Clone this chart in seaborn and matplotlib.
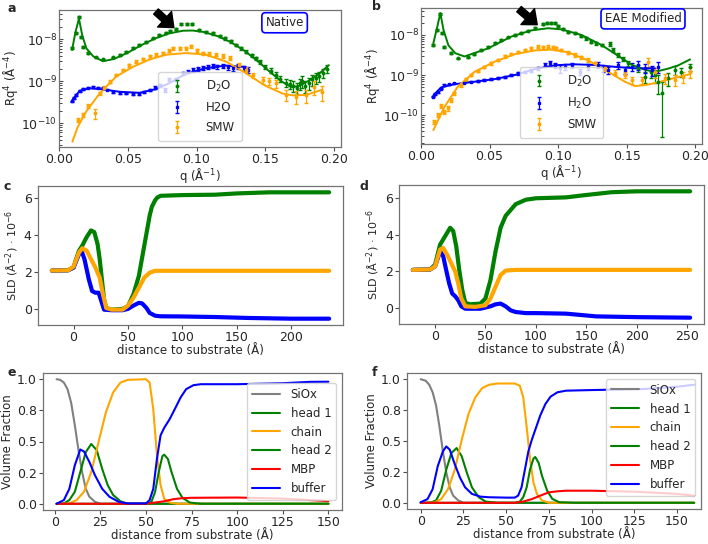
import matplotlib
matplotlib.use("Agg")
import matplotlib.pyplot as plt
from matplotlib.ticker import FormatStrFormatter
import seaborn as sns
import numpy as np

sns.set_style("ticks")
plt.rcParams['font.family'] = ['DejaVu Sans']
plt.rcParams['font.size'] = 8.5

GREEN, BLUE, ORANGE, GRAY, RED = 'green', 'blue', 'orange', 'gray', 'red'

# ---------------- panel a: reflectivity, native ----------------
q_a_d2o = [0.0097, 0.0121, 0.0145, 0.0160, 0.0174, 0.021, 0.027, 0.032, 0.039, 0.044,
           0.049, 0.054, 0.0585, 0.063, 0.068, 0.073, 0.078, 0.081, 0.085, 0.089,
           0.093, 0.097, 0.102, 0.107, 0.112, 0.117, 0.121, 0.125, 0.129, 0.132,
           0.136, 0.140, 0.143, 0.146, 0.150, 0.154, 0.158, 0.161, 0.165, 0.168,
           0.170, 0.173, 0.175, 0.177, 0.179, 0.182, 0.184, 0.187, 0.189, 0.192, 0.195]
r_a_d2o = [6.2e-9, 1.4e-8, 3.4e-8, 1.15e-8, 6.7e-9, 4.7e-9, 3.7e-9, 3.3e-9, 3.7e-9, 4.3e-9,
           5.1e-9, 6.2e-9, 7.4e-9, 8.8e-9, 1.05e-8, 1.25e-8, 1.45e-8, 1.6e-8, 1.75e-8, 2.3e-8,
           2.35e-8, 2.3e-8, 1.65e-8, 1.5e-8, 1.38e-8, 1.2e-8, 1.05e-8, 8.9e-9, 7.4e-9, 6.2e-9,
           5.1e-9, 4.2e-9, 3.5e-9, 2.9e-9, 2.2e-9, 1.8e-9, 1.4e-9, 1.15e-9, 9.3e-10, 8.5e-10,
           7.8e-10, 7.0e-10, 8.9e-10, 1.0e-9, 7.8e-10, 9.0e-10, 1.1e-9, 1.2e-9, 1.3e-9, 1.6e-9, 2.0e-9]
e_a_d2o = [0.06, 0.06, 0.06, 0.05, 0.05, 0.05, 0.05, 0.05, 0.05, 0.05,
           0.05, 0.05, 0.05, 0.05, 0.05, 0.05, 0.05, 0.05, 0.05, 0.05,
           0.05, 0.05, 0.05, 0.05, 0.06, 0.06, 0.06, 0.07, 0.07, 0.08,
           0.08, 0.09, 0.10, 0.11, 0.12, 0.14, 0.16, 0.18, 0.22, 0.25,
           0.28, 0.30, 0.30, 0.30, 0.32, 0.30, 0.30, 0.28, 0.28, 0.25, 0.22]
q_a_h2o = [0.0097, 0.0112, 0.0126, 0.015, 0.0174, 0.021, 0.0247, 0.028, 0.032, 0.035,
           0.039, 0.044, 0.0489, 0.054, 0.0585, 0.062, 0.0658, 0.070, 0.0735, 0.077,
           0.0803, 0.085, 0.090, 0.094, 0.0972, 0.101, 0.1045, 0.108, 0.1118, 0.115,
           0.119, 0.123, 0.1262, 0.130, 0.1346, 0.1371]
r_a_h2o = [3.3e-10, 4.0e-10, 4.7e-10, 5.8e-10, 6.5e-10, 7.0e-10, 7.2e-10, 7.0e-10, 6.9e-10, 6.3e-10,
           5.6e-10, 5.3e-10, 5.1e-10, 5.0e-10, 5.0e-10, 5.6e-10, 6.3e-10, 7.0e-10, 8.1e-10, 6.3e-10,
           1.12e-9, 1.1e-9, 1.55e-9, 1.7e-9, 1.86e-9, 1.95e-9, 2.05e-9, 2.2e-9, 2.35e-9, 2.25e-9,
           2.3e-9, 2.15e-9, 2.05e-9, 2.25e-9, 2.05e-9, 1.86e-9]
e_a_h2o = [0.04, 0.04, 0.04, 0.04, 0.04, 0.04, 0.04, 0.04, 0.04, 0.04,
           0.05, 0.05, 0.05, 0.05, 0.06, 0.06, 0.06, 0.07, 0.08, 0.10,
           0.08, 0.08, 0.08, 0.09, 0.09, 0.10, 0.10, 0.10, 0.10, 0.11,
           0.12, 0.12, 0.13, 0.14, 0.15, 0.16]
q_a_smw = [0.0138, 0.0174, 0.021, 0.026, 0.0295, 0.033, 0.0368, 0.0415, 0.0464, 0.051,
           0.056, 0.061, 0.066, 0.0705, 0.0755, 0.080, 0.083, 0.088, 0.092, 0.096,
           0.1005, 0.1045, 0.109, 0.114, 0.119, 0.124, 0.131, 0.136, 0.141, 0.148,
           0.153, 0.158, 0.165, 0.172, 0.1795, 0.1855, 0.1915]
r_a_smw = [1.2e-10, 1.6e-10, 2.6e-10, 1.7e-10, 5.1e-10, 7.0e-10, 9.8e-10, 1.4e-9, 1.86e-9, 2.4e-9,
           2.95e-9, 3.4e-9, 3.9e-9, 4.3e-9, 4.7e-9, 5.4e-9, 6.2e-9, 6.2e-9, 6.2e-9, 6.9e-9,
           5.5e-9, 4.7e-9, 4.5e-9, 4.3e-9, 4.0e-9, 3.55e-9, 2.45e-9, 1.9e-9, 1.4e-9, 1.07e-9,
           1.0e-9, 8.9e-10, 4.7e-10, 4.3e-10, 4.7e-10, 7.4e-10, 5.6e-10]
e_a_smw = [0.12, 0.12, 0.12, 0.25, 0.10, 0.08, 0.08, 0.07, 0.07, 0.07,
           0.07, 0.07, 0.07, 0.07, 0.07, 0.07, 0.08, 0.08, 0.08, 0.08,
           0.08, 0.08, 0.09, 0.09, 0.10, 0.10, 0.12, 0.13, 0.15, 0.18,
           0.20, 0.22, 0.30, 0.35, 0.35, 0.35, 0.40]
fq_a_d2o = [0.0095, 0.012, 0.0145, 0.017, 0.020, 0.025, 0.032, 0.040, 0.050, 0.060,
            0.070, 0.080, 0.090, 0.097, 0.105, 0.115, 0.125, 0.135, 0.145, 0.155,
            0.162, 0.169, 0.175, 0.182, 0.190, 0.196]
fr_a_d2o = [5.6e-9, 1.5e-8, 3.1e-8, 1.2e-8, 6.0e-9, 3.9e-9, 3.0e-9, 3.4e-9, 4.8e-9, 7.3e-9,
            1.05e-8, 1.38e-8, 1.6e-8, 1.62e-8, 1.5e-8, 1.2e-8, 8.5e-9, 5.3e-9, 2.9e-9, 1.5e-9,
            9.8e-10, 7.2e-10, 7.8e-10, 1.05e-9, 1.6e-9, 2.4e-9]
fq_a_h2o = [0.0097, 0.015, 0.0223, 0.032, 0.0441, 0.0585, 0.0706, 0.080, 0.0919, 0.1064,
            0.1209, 0.1355]
fr_a_h2o = [3.6e-10, 5.9e-10, 6.8e-10, 6.4e-10, 5.6e-10, 5.3e-10, 6.5e-10, 8.9e-10, 1.48e-9, 2.05e-9,
            2.35e-9, 2.2e-9]
fq_a_smw = [0.0097, 0.0135, 0.0198, 0.0295, 0.0416, 0.0537, 0.0658, 0.078, 0.0924, 0.107,
            0.1214, 0.1359, 0.150, 0.1625, 0.170, 0.1795, 0.1915]
fr_a_smw = [3.6e-11, 8e-11, 1.9e-10, 5.1e-10, 1.3e-9, 2.2e-9, 3.3e-9, 4.3e-9, 4.7e-9, 4.3e-9,
            2.95e-9, 1.55e-9, 7.8e-10, 5.1e-10, 4.6e-10, 4.7e-10, 6.3e-10]

# ---------------- panel b: reflectivity, EAE modified ----------------
q_b_d2o = [0.0090, 0.0117, 0.0141, 0.0156, 0.0171, 0.0220, 0.0268, 0.0341, 0.039, 0.0439,
           0.0488, 0.0537, 0.0585, 0.0634, 0.0683, 0.0732, 0.078, 0.0829, 0.089, 0.0922,
           0.0951, 0.0976, 0.100, 0.1037, 0.1073, 0.112, 0.117, 0.1207, 0.124, 0.128,
           0.1317, 0.1378, 0.140, 0.1439, 0.1476, 0.1512, 0.1585, 0.1634, 0.168, 0.1707,
           0.1732, 0.1756, 0.1805, 0.1854, 0.190, 0.1963]
r_b_d2o = [5.6e-9, 1.33e-8, 3.35e-8, 1.1e-8, 5.1e-9, 3.5e-9, 2.6e-9, 2.75e-9, 3.35e-9, 4.2e-9,
           5.1e-9, 6.2e-9, 7.4e-9, 8.7e-9, 1.0e-8, 1.14e-8, 1.29e-8, 1.47e-8, 1.88e-8, 1.95e-8,
           2.0e-8, 1.95e-8, 1.68e-8, 1.4e-8, 1.21e-8, 1.1e-8, 9.4e-9, 8.2e-9, 6.8e-9, 6.2e-9,
           5.6e-9, 5.95e-9, 4.2e-9, 3.2e-9, 2.5e-9, 1.95e-9, 1.47e-9, 9.1e-10, 1.2e-9, 1.0e-9,
           6.8e-10, 3.5e-10, 8.3e-10, 1.33e-9, 1.2e-9, 1.6e-9]
e_b_d2o = [0.06, 0.06, 0.06, 0.05, 0.05, 0.05, 0.05, 0.05, 0.05, 0.05,
           0.05, 0.05, 0.05, 0.05, 0.05, 0.05, 0.05, 0.05, 0.05, 0.05,
           0.05, 0.05, 0.05, 0.06, 0.06, 0.06, 0.06, 0.07, 0.07, 0.08,
           0.08, 0.10, 0.10, 0.11, 0.12, 0.13, 0.18, 0.30, 0.30, 0.35,
           0.50, 0.92, 0.35, 0.25, 0.25, 0.20]
q_b_h2o = [0.009, 0.0105, 0.0122, 0.0146, 0.0171, 0.0207, 0.0244, 0.0317, 0.0366, 0.0415,
           0.0463, 0.0512, 0.0561, 0.061, 0.0659, 0.0707, 0.0756, 0.0805, 0.0854, 0.0902,
           0.0939, 0.0976, 0.1012, 0.1049, 0.1098, 0.1159, 0.122, 0.1293, 0.133, 0.1366,
           0.1439, 0.1488, 0.1537, 0.1585, 0.1634, 0.1683, 0.1732]
r_b_h2o = [2.9e-10, 3.4e-10, 3.8e-10, 4.6e-10, 5.6e-10, 5.9e-10, 6.2e-10, 6.5e-10, 6.8e-10, 7.1e-10,
           7.5e-10, 7.8e-10, 8.4e-10, 9.1e-10, 1.0e-9, 1.1e-9, 1.2e-9, 1.28e-9, 1.47e-9, 1.78e-9,
           1.95e-9, 1.78e-9, 1.47e-9, 1.6e-9, 1.78e-9, 1.2e-9, 1.6e-9, 1.78e-9, 1.47e-9, 1.33e-9,
           1.78e-9, 1.33e-9, 1.6e-9, 1.78e-9, 1.47e-9, 1.33e-9, 1.6e-9]
e_b_h2o = [0.04, 0.04, 0.04, 0.04, 0.04, 0.04, 0.04, 0.04, 0.04, 0.05,
           0.05, 0.05, 0.05, 0.06, 0.06, 0.07, 0.07, 0.08, 0.10, 0.12,
           0.15, 0.15, 0.22, 0.15, 0.15, 0.15, 0.16, 0.18, 0.18, 0.20,
           0.20, 0.22, 0.22, 0.25, 0.25, 0.28, 0.30]
q_b_smw = [0.0098, 0.0122, 0.0146, 0.0171, 0.0195, 0.022, 0.0244, 0.0293, 0.0329, 0.0366,
           0.0415, 0.0463, 0.0512, 0.0561, 0.061, 0.0659, 0.0707, 0.0756, 0.0805, 0.0854,
           0.089, 0.0927, 0.0963, 0.0988, 0.1024, 0.1073, 0.1122, 0.117, 0.122, 0.1268,
           0.1341, 0.1415, 0.1488, 0.1537, 0.161, 0.1659, 0.1707, 0.178, 0.1854, 0.1915, 0.1963]
r_b_smw = [6.8e-11, 1.0e-10, 1.67e-10, 1.2e-10, 1.47e-10, 2.4e-10, 3.5e-10, 5.6e-10, 7.8e-10, 1.0e-9,
           1.28e-9, 1.6e-9, 1.95e-9, 2.37e-9, 2.9e-9, 3.35e-9, 3.8e-9, 4.2e-9, 4.6e-9, 5.1e-9,
           4.9e-9, 5.1e-9, 4.9e-9, 4.6e-9, 4.2e-9, 3.6e-9, 3.16e-9, 2.77e-9, 2.37e-9, 1.95e-9,
           1.47e-9, 1.14e-9, 1.0e-9, 7.5e-10, 7.5e-10, 2.15e-9, 1.2e-9, 8.3e-10, 7.5e-10, 9.1e-10, 1.2e-9]
e_b_smw = [0.12, 0.12, 0.12, 0.12, 0.12, 0.10, 0.10, 0.08, 0.08, 0.07,
           0.07, 0.07, 0.07, 0.07, 0.07, 0.07, 0.07, 0.07, 0.08, 0.08,
           0.08, 0.08, 0.08, 0.08, 0.08, 0.09, 0.09, 0.10, 0.10, 0.11,
           0.12, 0.14, 0.16, 0.20, 0.22, 0.25, 0.28, 0.30, 0.30, 0.32, 0.30]
fq_b_d2o = [0.0090, 0.0117, 0.0141, 0.0165, 0.020, 0.025, 0.0317, 0.0488, 0.0659, 0.0805,
            0.0927, 0.1024, 0.117, 0.1317, 0.1439, 0.1537, 0.1634, 0.1707, 0.1805, 0.1878, 0.1963]
fr_b_d2o = [6.2e-9, 1.5e-8, 3.5e-8, 1.3e-8, 5.5e-9, 3.5e-9, 2.9e-9, 4.6e-9, 9.1e-9, 1.3e-8,
            1.47e-8, 1.38e-8, 1.0e-8, 5.6e-9, 3.0e-9, 1.8e-9, 1.35e-9, 1.2e-9, 1.45e-9, 1.75e-9, 2.45e-9]
fq_b_h2o = [0.009, 0.0146, 0.0244, 0.039, 0.0537, 0.0683, 0.0829, 0.0976, 0.112, 0.1268,
            0.1415, 0.156, 0.1707]
fr_b_h2o = [3.1e-10, 4.9e-10, 5.9e-10, 6.8e-10, 7.9e-10, 1.0e-9, 1.4e-9, 1.75e-9, 1.85e-9, 1.78e-9,
            1.6e-9, 1.47e-9, 1.47e-9]
fq_b_smw = [0.0090, 0.0171, 0.0268, 0.039, 0.0537, 0.0683, 0.0829, 0.0951, 0.1073, 0.122,
            0.1366, 0.1488, 0.156, 0.1634, 0.1707, 0.1829, 0.1963]
fr_b_smw = [4.2e-11, 1.6e-10, 5.1e-10, 1.2e-9, 2.15e-9, 3.3e-9, 4.1e-9, 4.3e-9, 3.7e-9, 2.3e-9,
            1.2e-9, 6.8e-10, 5.3e-10, 5.6e-10, 6.3e-10, 8.1e-10, 1.05e-9]

# ---------------- panels c, d: SLD profiles ----------------
x_c_d2o = [-20, -5, 0, 2, 5, 8, 12, 16, 19, 22, 24, 26, 28, 30, 35, 45, 50, 55, 60, 65,
           70, 72, 75, 77, 80, 100, 130, 150, 180, 235]
y_c_d2o = [2.08, 2.1, 2.25, 2.65, 3.16, 3.44, 3.9, 4.26, 4.17, 3.53, 2.7, 1.6, 0.51, 0.05, -0.04,
           0.0, 0.15, 0.79, 1.79, 3.44, 5.08, 5.55, 5.9, 6.05, 6.14, 6.18, 6.2, 6.27, 6.33, 6.33]
x_c_h2o = [-20, -5, 0, 5, 7, 10, 14, 17, 20, 23, 26, 28, 35, 45, 50, 55, 60, 63, 67, 70,
           75, 80, 100, 130, 160, 200, 235]
y_c_h2o = [2.08, 2.1, 2.25, 2.98, 3.2, 2.7, 1.6, 0.97, 0.88, 0.88, 0.33, -0.04, -0.07, -0.07, 0.0,
           0.18, 0.33, 0.3, 0.05, -0.22, -0.37, -0.4, -0.41, -0.44, -0.49, -0.53, -0.53]
x_c_smw = [-20, -5, 0, 5, 8, 12, 16, 20, 24, 27, 30, 35, 45, 50, 55, 60, 65, 70, 75, 235]
y_c_smw = [2.08, 2.1, 2.3, 3.07, 3.29, 3.16, 2.7, 2.25, 1.7, 0.79, 0.05, -0.04, -0.04, 0.18, 0.6,
           1.15, 1.7, 1.97, 2.07, 2.07]

x_d_d2o = [-22, -5, 0, 5, 10, 15, 18, 21, 24, 27, 30, 35, 45, 50, 55, 60, 65, 70, 80, 90,
           100, 130, 150, 175, 200, 253]
y_d_d2o = [2.08, 2.1, 2.36, 3.46, 3.92, 4.38, 4.2, 3.37, 2.08, 0.98, 0.28, 0.2, 0.24, 0.52, 1.53,
           3.09, 4.38, 5.03, 5.67, 5.91, 5.99, 6.04, 6.17, 6.32, 6.37, 6.37]
x_d_h2o = [-22, -5, 0, 5, 8, 11, 14, 17, 20, 23, 26, 30, 45, 55, 60, 65, 70, 75, 80, 90,
           100, 130, 160, 200, 253]
y_d_h2o = [2.08, 2.1, 2.27, 3.09, 2.85, 2.08, 1.34, 0.79, 0.64, 0.42, 0.09, -0.04, -0.04, 0.09, 0.2,
           0.24, 0.09, -0.13, -0.22, -0.28, -0.28, -0.31, -0.46, -0.5, -0.53]
x_d_smw = [-22, -5, 0, 5, 8, 12, 16, 20, 23, 26, 30, 40, 50, 55, 60, 65, 70, 80, 253]
y_d_smw = [2.08, 2.1, 2.27, 3.19, 3.28, 2.91, 2.45, 1.99, 1.34, 0.52, 0.09, 0.06, 0.15, 0.52, 1.16,
           1.8, 2.04, 2.08, 2.08]

# ---------------- panels e, f: volume fractions ----------------
components = ['SiOx', 'head 1', 'chain', 'head 2', 'MBP', 'buffer']
comp_colors = [GRAY, GREEN, ORANGE, GREEN, RED, BLUE]

x_e_siox = [1, 3, 5, 7, 9, 11, 13, 15, 17, 19, 22, 25, 150]
y_e_siox = [1.0, 0.995, 0.973, 0.92, 0.81, 0.63, 0.43, 0.255, 0.12, 0.056, 0.016, 0.0, 0.0]
x_e_head1 = [1, 5, 8, 11, 14, 17, 20, 23, 26, 29, 32, 36, 40, 150]
y_e_head1 = [0, 0.003, 0.03, 0.096, 0.255, 0.415, 0.48, 0.43, 0.28, 0.15, 0.07, 0.02, 0.0, 0.0]
x_e_chain = [1, 8, 12, 16, 20, 24, 28, 32, 36, 40, 50, 52, 54, 56, 58, 60, 63, 67, 150]
y_e_chain = [0, 0.003, 0.03, 0.096, 0.255, 0.495, 0.734, 0.894, 0.973, 0.995, 1.0, 0.973, 0.76,
             0.39, 0.15, 0.04, 0.01, 0.0, 0.0]
x_e_head2 = [1, 50, 53, 55, 57, 59, 60, 62, 64, 67, 70, 74, 80, 150]
y_e_head2 = [0, 0, 0.016, 0.096, 0.255, 0.383, 0.394, 0.36, 0.255, 0.12, 0.048, 0.01, 0.0, 0.0]
x_e_mbp = [1, 50, 55, 60, 65, 70, 75, 100, 125, 150]
y_e_mbp = [0, 0, 0.01, 0.02, 0.037, 0.045, 0.048, 0.05, 0.042, 0.021]
x_e_buffer = [1, 5, 8, 11, 14, 16, 19, 22, 26, 30, 35, 40, 50, 52, 54, 56, 58, 60, 63, 66,
              69, 72, 76, 80, 100, 125, 140, 150]
y_e_buffer = [0, 0.03, 0.12, 0.31, 0.436, 0.42, 0.335, 0.23, 0.12, 0.056, 0.016, 0.003, 0.003,
              0.03, 0.12, 0.36, 0.55, 0.61, 0.68, 0.766, 0.854, 0.92, 0.952, 0.96, 0.96, 0.968,
              0.979, 0.98]

x_f_siox = [0, 3, 5, 7, 9, 11, 13, 15, 17, 19, 22, 25, 160]
y_f_siox = [1.0, 0.987, 0.955, 0.894, 0.788, 0.615, 0.416, 0.244, 0.125, 0.058, 0.019, 0.0, 0.0]
x_f_head1 = [0, 6, 9, 12, 15, 18, 21, 24, 27, 30, 34, 38, 45, 160]
y_f_head1 = [0, 0.003, 0.019, 0.098, 0.27, 0.403, 0.443, 0.377, 0.244, 0.125, 0.045, 0.01, 0.0, 0.0]
x_f_chain = [0, 8, 12, 16, 20, 24, 28, 32, 36, 40, 45, 55, 58, 60, 62, 64, 66, 68, 71, 75, 160]
y_f_chain = [0, 0.003, 0.03, 0.111, 0.27, 0.509, 0.72, 0.854, 0.928, 0.955, 0.965, 0.965, 0.947,
             0.854, 0.615, 0.35, 0.164, 0.072, 0.019, 0.0, 0.0]
x_f_head2 = [0, 55, 58, 60, 62, 64, 66, 67, 69, 71, 74, 77, 81, 90, 160]
y_f_head2 = [0, 0, 0.01, 0.045, 0.125, 0.27, 0.358, 0.371, 0.324, 0.217, 0.098, 0.032, 0.005, 0.0, 0.0]
x_f_mbp = [0, 55, 60, 65, 70, 75, 80, 85, 100, 125, 150, 160]
y_f_mbp = [0, 0, 0.01, 0.03, 0.058, 0.085, 0.093, 0.098, 0.098, 0.09, 0.072, 0.058]
x_f_buffer = [0, 4, 7, 10, 13, 15, 17, 20, 23, 26, 30, 35, 40, 50, 55, 57, 59, 61, 63, 65,
              67, 70, 73, 76, 80, 85, 100, 130, 150, 160]
y_f_buffer = [0.005, 0.03, 0.11, 0.297, 0.416, 0.456, 0.43, 0.31, 0.204, 0.125, 0.072, 0.05, 0.045,
              0.042, 0.042, 0.058, 0.125, 0.27, 0.416, 0.509, 0.589, 0.708, 0.8, 0.859, 0.894,
              0.907, 0.912, 0.92, 0.939, 0.955]

W, H = 708, 544
fig = plt.figure(figsize=(W / 100, H / 100), dpi=100)

TICK_FS = 9
LAB_FS = 8.5


def px_axes(l, t, r, b):
    return fig.add_axes([l / W, 1 - b / H, (r - l) / W, (b - t) / H])


def style(ax):
    for s in ax.spines.values():
        s.set_color('0.45')
        s.set_linewidth(0.9)
    ax.tick_params(labelsize=TICK_FS, length=3, width=0.8, color='0.3', pad=1.5)


def refl_panel(ax, data, fits, labels, ylim, tip, tail, tag):
    cols = [GREEN, BLUE, ORANGE]
    marks = ['o', 's', 'o']
    for (q, r, e), lab, c, m in zip(data, labels, cols, marks):
        r = np.array(r)
        ax.errorbar(q, r, yerr=r * np.array(e), fmt=m, ms=1.8, color=c, ecolor=c,
                    elinewidth=0.9, capsize=1.2, label=lab)
    for (fq, fr), c in zip(fits, cols):
        sns.lineplot(x=fq, y=fr, ax=ax, color=c, lw=1.4, sort=False, estimator=None)
    ax.set_yscale('log')
    ax.set_xlim(0, 0.205)
    ax.set_ylim(*ylim)
    ax.set_xticks([0.0, 0.05, 0.10, 0.15, 0.20])
    ax.xaxis.set_major_formatter(FormatStrFormatter('%.2f'))
    ax.set_xlabel('q (Å$^{-1}$)', fontsize=LAB_FS, labelpad=0)
    ax.set_ylabel('Rq$^4$ (Å$^{-4}$)', fontsize=LAB_FS, labelpad=1)
    ax.tick_params(axis='y', which='both', direction='in')
    ax.legend(loc='lower center', fontsize=LAB_FS, handletextpad=1.4, borderpad=0.6,
              labelspacing=0.6)
    ax.annotate('', xy=tip, xytext=tail, annotation_clip=False,
                arrowprops=dict(facecolor='black', edgecolor='black', width=5,
                                headwidth=15, headlength=9))
    ax.text(tag[1], tag[2], tag[0], transform=ax.transAxes, ha='center', va='center',
            fontsize=LAB_FS, bbox=dict(boxstyle='round,pad=0.3', fc='white', ec='blue', lw=1.2))


axa = px_axes(59, 10, 341, 147)
refl_panel(axa,
           [(q_a_d2o, r_a_d2o, e_a_d2o), (q_a_h2o, r_a_h2o, e_a_h2o), (q_a_smw, r_a_smw, e_a_smw)],
           [(fq_a_d2o, fr_a_d2o), (fq_a_h2o, fr_a_h2o), (fq_a_smw, fr_a_smw)],
           ['D$_2$O', 'H2O', 'SMW'], (2.7e-11, 5e-8), (0.0835, 1.9e-8), (0.0705, 4.6e-8),
           ('Native', 0.80, 0.907))
style(axa)

axb = px_axes(421, 8, 702, 144)
refl_panel(axb,
           [(q_b_d2o, r_b_d2o, e_b_d2o), (q_b_h2o, r_b_h2o, e_b_h2o), (q_b_smw, r_b_smw, e_b_smw)],
           [(fq_b_d2o, fr_b_d2o), (fq_b_h2o, fr_b_h2o), (fq_b_smw, fr_b_smw)],
           ['D$_2$O', 'H$_2$O', 'SMW'], (1.9e-11, 4.7e-8), (0.0848, 1.8e-8), (0.0715, 4.4e-8),
           ('EAE Modified', 0.79, 0.92))
style(axb)


def sld_panel(ax, curves):
    for (x, y), c in zip(curves, [GREEN, BLUE, ORANGE]):
        sns.lineplot(x=x, y=y, ax=ax, color=c, lw=3.0, sort=False, estimator=None)
    ax.set_xlabel('distance to substrate (Å)', fontsize=LAB_FS, labelpad=0)
    ax.set_ylabel('SLD (Å$^{-2}$) · 10$^{-6}$', fontsize=8, labelpad=2)
    ax.set_yticks([0, 2, 4, 6])


axc = px_axes(38, 186, 343, 325)
sld_panel(axc, [(x_c_d2o, y_c_d2o), (x_c_h2o, y_c_h2o), (x_c_smw, y_c_smw)])
axc.set_xticks([0, 50, 100, 150, 200])
style(axc)

axd = px_axes(399, 185, 704, 324)
sld_panel(axd, [(x_d_d2o, y_d_d2o), (x_d_h2o, y_d_h2o), (x_d_smw, y_d_smw)])
axd.set_xticks([0, 50, 100, 150, 200, 250])
style(axd)


def vf_panel(ax, curves, loc):
    for (x, y), lab, c in zip(curves, components, comp_colors):
        sns.lineplot(x=x, y=y, ax=ax, color=c, lw=1.5, sort=False, estimator=None, label=lab)
    ax.set_xlabel('distance from substrate (Å)', fontsize=LAB_FS, labelpad=0)
    ax.set_ylabel('Volume Fraction', fontsize=LAB_FS, labelpad=2)
    ax.set_yticks([0, 0.25, 0.5, 0.75, 1.0])
    ax.yaxis.set_major_formatter(FormatStrFormatter('%.1f'))
    ax.set_xticks([0, 25, 50, 75, 100, 125, 150])
    ax.legend(loc=loc, fontsize=LAB_FS, handlelength=2.4, handletextpad=0.9)


axe = px_axes(43, 373, 342, 510)
vf_panel(axe, [(x_e_siox, y_e_siox), (x_e_head1, y_e_head1), (x_e_chain, y_e_chain),
               (x_e_head2, y_e_head2), (x_e_mbp, y_e_mbp), (x_e_buffer, y_e_buffer)],
         'center right')
style(axe)

axf = px_axes(407, 373, 701, 509)
vf_panel(axf, [(x_f_siox, y_f_siox), (x_f_head1, y_f_head1), (x_f_chain, y_f_chain),
               (x_f_head2, y_f_head2), (x_f_mbp, y_f_mbp), (x_f_buffer, y_f_buffer)],
         'upper right')
axf.set_xlim(-8, 164)
style(axf)

for lab, (x, y) in zip('abcdef', [(12, 8), (376, 6), (7, 187), (364, 187), (12, 373), (374, 373)]):
    fig.text(x / W, 1 - y / H, lab, fontsize=9, fontweight='bold', ha='center', va='center')

fig.savefig('out.png', dpi=100)
